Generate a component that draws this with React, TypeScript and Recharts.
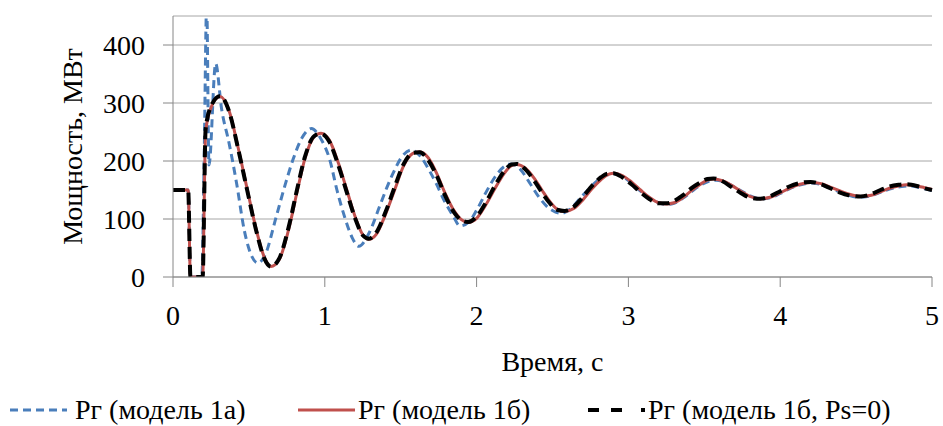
import React from 'react';
import { LineChart, Line, XAxis, YAxis, CartesianGrid } from 'recharts';

const xTicks = [0, 1, 2, 3, 4, 5];
const yTicks = [0, 100, 200, 300, 400];

const tBlue = [0, 0.1, 0.115, 0.19, 0.205, 0.222, 0.237, 0.281, 0.32, 0.37, 0.42, 0.47, 0.52, 0.56, 0.61, 0.68, 0.74, 0.79, 0.85, 0.912, 0.97, 1.033, 1.08, 1.13, 1.18, 1.224, 1.29, 1.36, 1.41, 1.45, 1.51, 1.571, 1.63, 1.69, 1.736, 1.79, 1.846, 1.89, 1.95, 2.0, 2.06, 2.12, 2.18, 2.23, 2.29, 2.35, 2.41, 2.47, 2.52, 2.56, 2.62, 2.68, 2.74, 2.8, 2.86, 2.9, 2.96, 3.02, 3.08, 3.14, 3.2, 3.25, 3.3, 3.36, 3.42, 3.48, 3.54, 3.58, 3.64, 3.7, 3.76, 3.82, 3.88, 3.94, 4.0, 4.06, 4.12, 4.2, 4.26, 4.32, 4.38, 4.44, 4.5, 4.55, 4.62, 4.68, 4.74, 4.8, 4.86, 4.92, 5.0];
const pBlue = [150, 150, 0, 0, 200, 470, 193, 368, 290, 230, 160, 80, 35, 24, 40, 104, 160, 202, 240, 256, 240, 202, 150, 104, 68, 53, 75, 121, 155, 179, 208, 219, 208, 183, 160, 130, 105, 88, 95, 115, 145, 172, 190, 195, 185, 162, 138, 120, 112, 110, 118, 135, 152, 167, 176, 178, 174, 162, 148, 136, 128, 125, 127, 136, 148, 159, 166, 167, 163, 155, 146, 138, 135, 137, 144, 152, 158, 162, 160, 154, 148, 142, 138, 138, 142, 148, 153, 156, 157, 154, 149];

const tRed = [0, 0.1, 0.115, 0.195, 0.215, 0.25, 0.31, 0.37, 0.43, 0.49, 0.55, 0.6, 0.645, 0.7, 0.76, 0.82, 0.87, 0.93, 0.975, 1.03, 1.09, 1.145, 1.2, 1.25, 1.29, 1.34, 1.4, 1.46, 1.52, 1.58, 1.625, 1.68, 1.74, 1.79, 1.85, 1.9, 1.945, 2.0, 2.06, 2.12, 2.18, 2.23, 2.265, 2.32, 2.38, 2.43, 2.48, 2.53, 2.58, 2.64, 2.7, 2.76, 2.82, 2.86, 2.9, 2.96, 3.02, 3.08, 3.14, 3.2, 3.25, 3.3, 3.36, 3.42, 3.48, 3.52, 3.56, 3.62, 3.68, 3.74, 3.8, 3.87, 3.94, 4.0, 4.06, 4.13, 4.2, 4.27, 4.33, 4.39, 4.45, 4.53, 4.6, 4.66, 4.72, 4.78, 4.83, 4.9, 4.95, 5.0];
const pRed = [150, 150, 0, 0, 250, 292, 311, 286, 222, 150, 80, 35, 18, 30, 80, 150, 205, 242, 248, 236, 196, 150, 104, 73, 65, 74, 108, 150, 192, 213, 216, 206, 177, 146, 115, 99, 94, 101, 124, 152, 178, 192, 194, 188, 170, 150, 131, 117, 113, 118, 133, 152, 168, 176, 179, 175, 164, 150, 137, 128, 126, 128, 137, 150, 161, 167, 169, 166, 158, 148, 139, 135, 138, 145, 153, 160, 163, 161, 155, 149, 143, 139, 141, 147, 153, 157, 159, 157, 154, 151];

const tBlack = tRed;
const pBlack = [150, 150, 0, 0, 255, 294, 312, 285, 220, 148, 78, 33, 18, 32, 84, 154, 208, 243, 247, 233, 192, 146, 101, 72, 66, 77, 112, 155, 195, 214, 215, 202, 173, 142, 112, 98, 95, 104, 128, 157, 182, 194, 195, 186, 166, 146, 128, 116, 114, 121, 138, 157, 172, 178, 179, 172, 160, 146, 134, 127, 127, 131, 141, 154, 164, 169, 170, 165, 155, 145, 137, 135, 140, 148, 156, 162, 164, 160, 153, 146, 141, 139, 143, 150, 156, 159, 160, 157, 153, 150];

const seriesNames = ['Pг (модель 1а)', 'Pг (модель 1б)', 'Pг (модель 1б, Ps=0)'];

const toData = (ts: number[], ps: number[]) => ts.map((t, i) => ({ t, p: ps[i] }));
const blueData = toData(tBlue, pBlue);
const redData = toData(tRed, pRed);
const blackData = toData(tBlack, pBlack);

const FONT = "'Liberation Serif', serif";
const FS = 28;
const BLUE = '#4a7ebb';
const RED = '#c0504d';
const BLACK = '#000000';
const GRID = '#a6a6a6';
const AXIS = '#868686';

const YLabel = (props: any) => {
  const vb = props.viewBox || { x: 0, y: 0, width: 0, height: 0 };
  const cx = vb.x + 72;
  const cy = vb.y + vb.height / 2;
  return (
    <text
      x={cx}
      y={cy}
      transform={`rotate(-90, ${cx}, ${cy})`}
      textAnchor="middle"
      dominantBaseline="central"
      fontFamily={FONT}
      fontSize={FS}
      fill="#000"
    >
      Мощность, МВт
    </text>
  );
};

const LegendSample = ({ color, dash, width }: { color: string; dash?: string; width: number }) => (
  <svg width={57} height={20} style={{ display: 'block' }}>
    <line x1={0} y1={10} x2={57} y2={10} stroke={color} strokeWidth={width} strokeDasharray={dash} />
  </svg>
);

const tickStyle = { fontFamily: FONT, fontSize: FS, fill: '#000' };

export default function App() {
  return (
    <div style={{ position: 'absolute', left: 0, top: 0, width: 943, height: 426, background: '#fff', fontFamily: FONT }}>
      <LineChart
        width={943}
        height={426}
        margin={{ top: 16, right: 11, left: 0, bottom: 49 }}
      >
        <CartesianGrid horizontal vertical={false} stroke={GRID} strokeWidth={1} />
        <XAxis
          type="number"
          dataKey="t"
          domain={[0, 5]}
          ticks={xTicks}
          allowDuplicatedCategory={false}
          height={100}
          stroke={AXIS}
          tickSize={10}
          tickMargin={18}
          tick={tickStyle}
          label={{ value: 'Время, с', position: 'insideBottom', offset: 6, fontFamily: FONT, fontSize: FS, fill: '#000' }}
        />
        <YAxis
          type="number"
          domain={[0, 450]}
          ticks={yTicks}
          allowDataOverflow
          width={173}
          stroke={AXIS}
          tickSize={10}
          tickMargin={18}
          tick={tickStyle}
          label={<YLabel />}
        />
        <Line data={blueData} dataKey="p" name={seriesNames[0]} type="monotone" stroke={BLUE} strokeWidth={3} strokeDasharray="8 5" dot={false} isAnimationActive={false} />
        <Line data={redData} dataKey="p" name={seriesNames[1]} type="monotone" stroke={RED} strokeWidth={3} dot={false} isAnimationActive={false} />
        <Line data={blackData} dataKey="p" name={seriesNames[2]} type="monotone" stroke={BLACK} strokeWidth={4} strokeDasharray="12 6" dot={false} isAnimationActive={false} />
      </LineChart>
      <div style={{ position: 'absolute', left: 0, top: 393, width: 943, height: 33, fontFamily: FONT, fontSize: FS, lineHeight: '33px', color: '#000' }}>
        <div style={{ position: 'absolute', left: 10, top: 7 }}><LegendSample color={BLUE} dash="8 5" width={3} /></div>
        <div style={{ position: 'absolute', left: 75, top: 0, whiteSpace: 'nowrap' }}>{seriesNames[0]}</div>
        <div style={{ position: 'absolute', left: 298, top: 7 }}><LegendSample color={RED} width={3} /></div>
        <div style={{ position: 'absolute', left: 358, top: 0, whiteSpace: 'nowrap' }}>{seriesNames[1]}</div>
        <div style={{ position: 'absolute', left: 588, top: 7 }}><LegendSample color={BLACK} dash="11 12 11 19 4 100" width={4} /></div>
        <div style={{ position: 'absolute', left: 648, top: 0, whiteSpace: 'nowrap' }}>{seriesNames[2]}</div>
      </div>
    </div>
  );
}
